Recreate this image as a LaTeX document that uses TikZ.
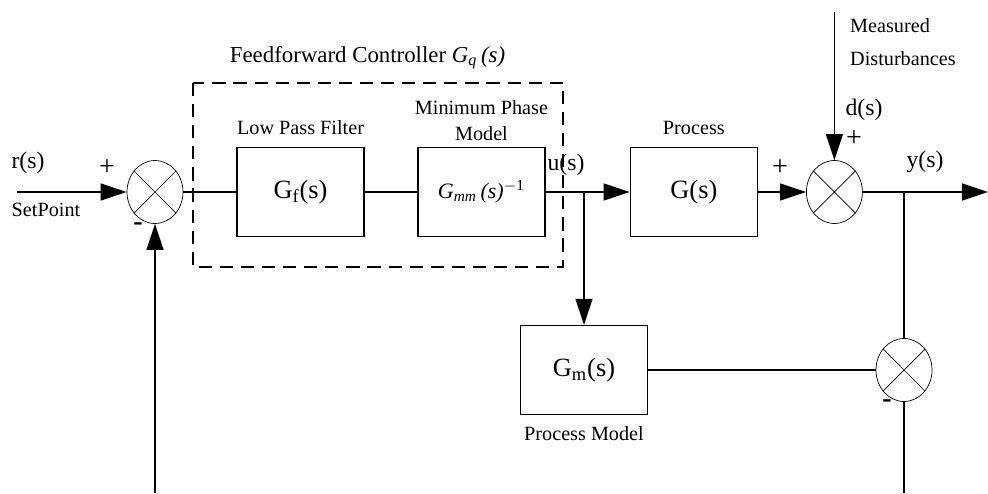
\documentclass[tikz,border=0pt]{standalone}
\usepackage{fontspec}
\setmainfont{Liberation Serif}
\usetikzlibrary{shapes.geometric, arrows.meta, positioning}

\begin{document}
\begin{tikzpicture}[
    node distance = 1cm and 1cm,
    box/.style     = {rectangle, draw, line width=0.8pt, minimum width=2.54cm,
                      minimum height=1.78cm, align=center,
                      font=\fontsize{15}{17}\selectfont},
    sumjunc/.style = {ellipse, draw, thin, minimum width=1.12cm,
                      minimum height=1.26cm, inner sep=0pt},
    lbl/.style     = {font=\fontsize{11.5}{15}\selectfont, align=center},
    sig/.style     = {font=\fontsize{13.5}{16}\selectfont},
    sgn/.style     = {font=\fontsize{16}{18}\selectfont},
    arrow/.style   = {-{Triangle[length=0.52cm, width=0.34cm]}, line width=0.8pt},
    line/.style    = {line width=0.8pt},
  ]
  \useasboundingbox (0,0) rectangle (19.76,9.86);

  \node[sumjunc] (sum1) at (3.10,6.02) {};
  \node[box, right=1.06cm of sum1] (filt) {G\textsubscript{f}(s)};
  \node[box, right=1.05cm of filt, font=\fontsize{12.5}{15}\selectfont] (inv)
        {\textit{G\textsubscript{mm}\,(s)}\textsuperscript{$-$1}};
  \node[box, right=1.68cm of inv]  (proc) {G(s)};
  \node[sumjunc, right=0.96cm of proc] (sum2) {};
  \node[box]     (model) at (11.68,2.46) {G\textsubscript{m}(s)};
  \node[sumjunc] (sum3)  at (18.08,2.46) {};

  \foreach \s in {sum1,sum2,sum3}
    \draw[thin] (\s.45) -- (\s.225) (\s.135) -- (\s.315);

  \draw[line, dashed, dash pattern=on 7.5pt off 4.5pt]
        (3.86,8.20) rectangle (11.26,4.52);
  \node[font=\fontsize{13}{15}\selectfont] (fftitle) at (7.35,8.70)
        {Feedforward Controller \textit{G}\textsubscript{\textit{q}}\,\textit{(s)}};

  \node[lbl, above=0.12cm of filt]  (filtlbl)  {Low Pass Filter};
  \node[lbl, above=0pt of inv]      (invlbl)   {Minimum Phase\\Model};
  \node[lbl, above=0.12cm of proc]  (proclbl)  {Process};
  \node[lbl, below=0.1cm of model]  (modellbl) {Process Model};

  \coordinate (in)   at (0.34,6.02);
  \coordinate (out)  at (19.76,6.02);
  \coordinate (ub)   at (model.north |- inv.east);
  \coordinate (yb)   at (sum3.north |- sum2.east);
  \coordinate (dist) at (sum2.north |- 0,9.62);
  \coordinate (fbl)  at (sum1.south |- 0,0);
  \coordinate (fbr)  at (sum3.south |- 0,0);

  \draw[arrow] (in)    -- (sum1);
  \draw[line]  (sum1)  -- (filt);
  \draw[line]  (filt)  -- (inv);
  \draw[line]  (inv)   -- (ub);
  \draw[arrow] (ub)    -- (proc);
  \draw[arrow] (ub)    -- (model);
  \draw[arrow] (proc)  -- (sum2);
  \draw[arrow] (dist)  -- (sum2);
  \draw[line]  (sum2)  -- (yb);
  \draw[arrow] (yb)    -- (out);
  \draw[line]  (yb)    -- (sum3);
  \draw[line]  (model) -- (sum3);
  \draw[line]  (sum3)  -- (fbr);
  \draw[arrow] (fbl)   -- (sum1);

  \node[sig] (rs)  at (0.56,6.60) {r(s)};
  \node[lbl] (sp)  at (0.92,5.66) {SetPoint};
  \node[sgn] (p1)  at (2.14,6.50) {+};
  \node[sgn] (m1)  at (2.76,5.32) {\bfseries -};
  \node[sig] (us)  at (11.32,6.56) {u(s)};
  \node[sgn] (p2)  at (15.60,6.50) {+};
  \node[lbl, anchor=west, align=left] (distlbl) at (16.88,9.02)
        {Measured\\[4pt]Disturbances};
  \node[sig] (ds)  at (17.28,7.66) {d(s)};
  \node[sgn] (p3)  at (17.08,7.08) {+};
  \node[sig] (ys)  at (18.50,6.62) {y(s)};
  \node[sgn] (m3)  at (17.74,1.78) {\bfseries -};
\end{tikzpicture}
\end{document}
